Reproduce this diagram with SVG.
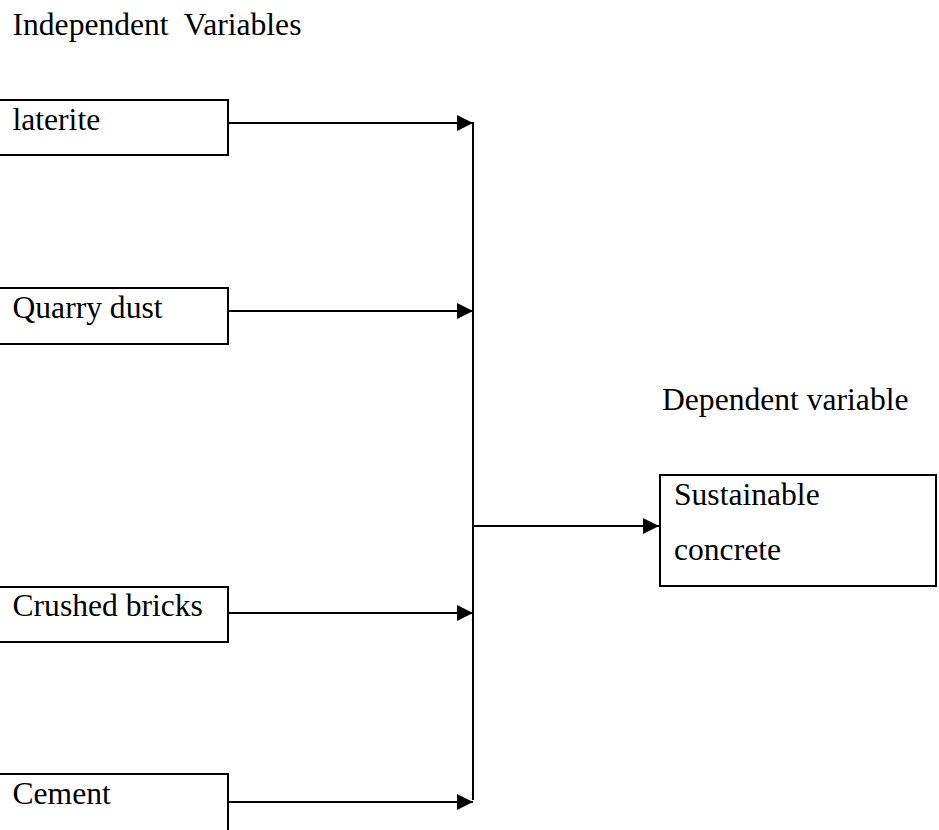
<svg xmlns="http://www.w3.org/2000/svg" width="939" height="830" viewBox="0 0 939 830">
<style>
text{font-family:"Liberation Serif","Times New Roman",serif;font-size:31.6px;fill:#000;white-space:pre}
.box{fill:#fff;stroke:#000;stroke-width:2}
.ln{fill:none;stroke:#000;stroke-width:2}
</style>
<defs>
<marker id="ah" markerUnits="userSpaceOnUse" markerWidth="16" markerHeight="16" refX="16" refY="8" orient="auto">
<path d="M0,0 L16,8 L0,16 Z" fill="#000"/>
</marker>
</defs>
<rect width="939" height="830" fill="#fff"/>
<text x="12.5" y="35" xml:space="preserve">Independent  Variables</text>
<text x="662" y="410">Dependent variable</text>
<g id="laterite">
<rect class="box" x="-5" y="100" width="233" height="55"/>
<text x="12.5" y="129.5">laterite</text>
</g>
<g id="quarry-dust">
<rect class="box" x="-5" y="288" width="233" height="56"/>
<text x="12.5" y="318">Quarry dust</text>
</g>
<g id="crushed-bricks">
<rect class="box" x="-5" y="587" width="233" height="55"/>
<text x="12.5" y="616">Crushed bricks</text>
</g>
<g id="cement">
<rect class="box" x="-5" y="774" width="233" height="70"/>
<text x="12.5" y="804">Cement</text>
</g>
<g id="sustainable-concrete">
<rect class="box" x="660" y="475" width="276" height="111"/>
<text x="674" y="505">Sustainable</text>
<text x="674" y="560">concrete</text>
</g>
<g id="connectors">
<line class="ln" x1="228" y1="123" x2="473" y2="123" marker-end="url(#ah)"/>
<line class="ln" x1="228" y1="311" x2="473" y2="311" marker-end="url(#ah)"/>
<line class="ln" x1="228" y1="613" x2="473" y2="613" marker-end="url(#ah)"/>
<line class="ln" x1="228" y1="802" x2="473" y2="802" marker-end="url(#ah)"/>
<line class="ln" x1="473" y1="122" x2="473" y2="800"/>
<line class="ln" x1="473" y1="526" x2="659" y2="526" marker-end="url(#ah)"/>
</g>
</svg>
